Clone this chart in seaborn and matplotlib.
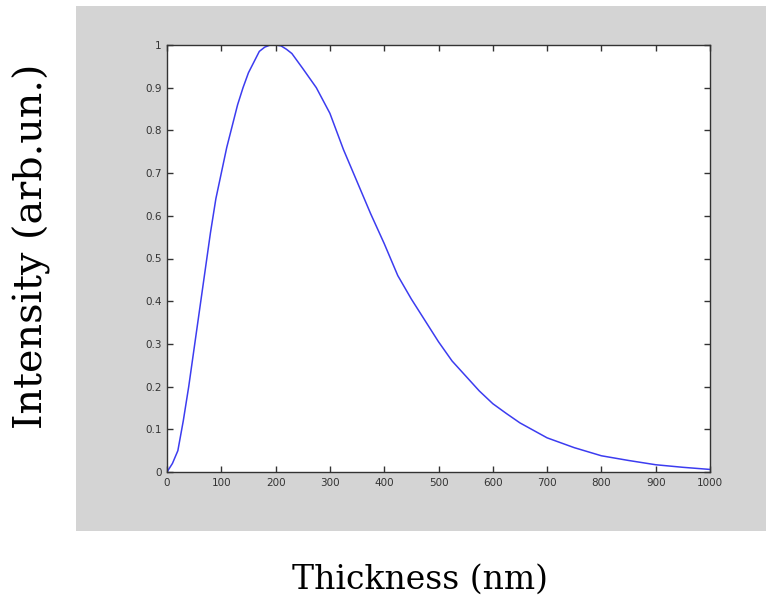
import numpy as np
import pandas as pd
import matplotlib
matplotlib.use("Agg")
import matplotlib.pyplot as plt
import seaborn as sns
from matplotlib.patches import Rectangle

# values
thickness = [0, 10, 20, 30, 40, 50, 60, 70, 80, 90, 100, 110, 120, 130, 140,
             150, 160, 170, 180, 190, 200, 210, 220, 230, 250, 275, 300, 325,
             350, 375, 400, 425, 450, 475, 500, 525, 550, 575, 600, 625, 650,
             700, 750, 800, 850, 900, 950, 1000]
intensity = [0, 0.02, 0.05, 0.12, 0.2, 0.29, 0.38, 0.47, 0.56, 0.64, 0.70,
             0.76, 0.81, 0.86, 0.90, 0.935, 0.96, 0.985, 0.995, 1.0, 1.0,
             0.998, 0.99, 0.98, 0.945, 0.9, 0.84, 0.755, 0.68, 0.605, 0.535,
             0.46, 0.405, 0.355, 0.305, 0.26, 0.225, 0.19, 0.16, 0.137, 0.115,
             0.08, 0.057, 0.038, 0.027, 0.017, 0.011, 0.006]
xticks = [0, 100, 200, 300, 400, 500, 600, 700, 800, 900, 1000]
yticks = [0, 0.1, 0.2, 0.3, 0.4, 0.5, 0.6, 0.7, 0.8, 0.9, 1]
ytick_labels = ["0", "0.1", "0.2", "0.3", "0.4", "0.5", "0.6", "0.7", "0.8", "0.9", "1"]

df = pd.DataFrame({"thickness": thickness, "intensity": intensity})

sns.set_style("ticks")
plt.rcParams['font.family'] = ['DejaVu Sans']

W, H = 766, 602
fig = plt.figure(figsize=(W / 100, H / 100), dpi=100)
fig.patch.set_facecolor("white")

# grey MATLAB-style figure panel
fig.patches.append(Rectangle((76 / W, 1 - 531 / H), (W - 76) / W, (531 - 6) / H,
                             transform=fig.transFigure, facecolor="#d4d4d4",
                             edgecolor="none", zorder=-10))

ax = fig.add_axes([167 / W, 1 - 472 / H, (710 - 167) / W, (472 - 45) / H])
ax.set_zorder(5)
ax.set_facecolor("white")

sns.lineplot(data=df, x="thickness", y="intensity", ax=ax,
             color="#3c3cf0", linewidth=1.1)

ax.set_xlim(0, 1000)
ax.set_ylim(0, 1)
ax.set_xticks(xticks)
ax.set_yticks(yticks)
ax.set_yticklabels(ytick_labels)
ax.set_xlabel("")
ax.set_ylabel("")
for s in ax.spines.values():
    s.set_visible(True)
    s.set_color("#333333")
    s.set_linewidth(1.0)
ax.tick_params(direction="in", top=True, right=True, length=4, width=1,
               color="#333333", labelsize=7.5, labelcolor="#333333", pad=4)

fig.text(32 / W, 1 - 246 / H, "Intensity (arb.un.)", rotation=90,
         ha="center", va="center", fontsize=28.5, family="DejaVu Serif",
         color="black")
fig.text(420 / W, 1 - 580 / H, "Thickness (nm)", ha="center", va="center",
         fontsize=23.8, family="DejaVu Serif", color="black")

fig.savefig("out.png", dpi=100)
